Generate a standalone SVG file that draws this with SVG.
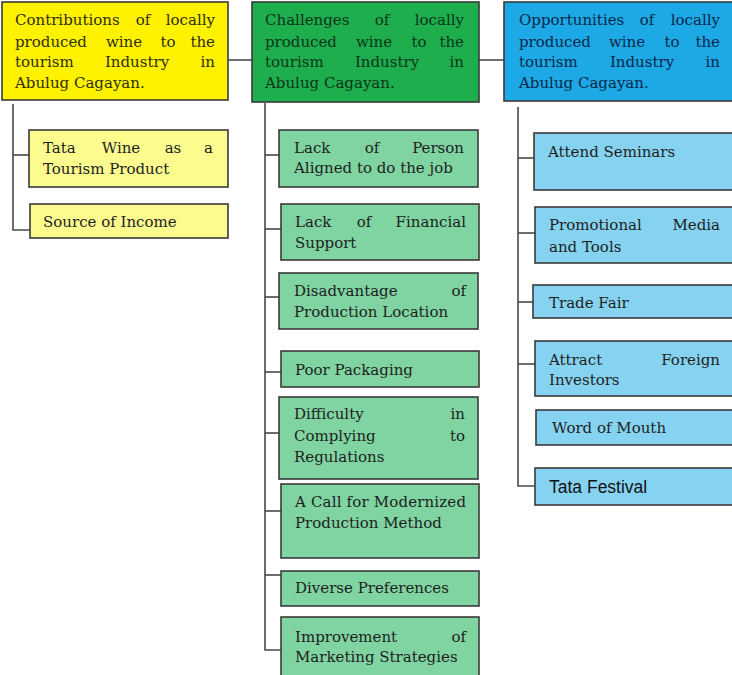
<svg xmlns="http://www.w3.org/2000/svg" width="732" height="675" viewBox="0 0 732 675">
<style>
.t{font-family:"DejaVu Serif","Liberation Serif",serif;font-size:15px;fill:#1e1e1e}
.e{text-anchor:end}
.m{text-anchor:middle}
.hy{fill:#2e2e0a}
.hg{fill:#0b3519}
.hb{fill:#0c2748}
.box{stroke:#3a3a3a;stroke-width:1.6}
.Y{fill:#fff200}.y{fill:#fbfb8e}
.G{fill:#1fae4d}.g{fill:#7fd4a1}
.B{fill:#1ca9e6}.b{fill:#86d3f1}
.c{stroke:#4a4a4a;stroke-width:1.6;fill:none}
.s{font-family:"Liberation Sans",Arial,sans-serif;font-size:17.5px;fill:#111}
</style>
<rect width="732" height="675" fill="#fff"/>
<g id="connectors">
<line class="c" x1="228" y1="60" x2="252" y2="60"/>
<line class="c" x1="479" y1="60" x2="504" y2="60"/>
<polyline class="c" points="13,104 13,230 30,230"/>
<line class="c" x1="13" y1="155" x2="29" y2="155"/>
<polyline class="c" points="265,103 265,650 281,650"/>
<line class="c" x1="265" y1="155" x2="279" y2="155"/>
<line class="c" x1="265" y1="229" x2="281" y2="229"/>
<line class="c" x1="265" y1="297" x2="279" y2="297"/>
<line class="c" x1="265" y1="372" x2="281" y2="372"/>
<line class="c" x1="265" y1="433" x2="279" y2="433"/>
<line class="c" x1="265" y1="511" x2="281" y2="511"/>
<line class="c" x1="265" y1="575" x2="281" y2="575"/>
<polyline class="c" points="518,107 518,486 534,486"/>
<line class="c" x1="518" y1="158" x2="534" y2="158"/>
<line class="c" x1="518" y1="233" x2="535" y2="233"/>
<line class="c" x1="518" y1="302" x2="533" y2="302"/>
<line class="c" x1="518" y1="364" x2="535" y2="364"/>
</g>
<g id="contributions">
<rect class="box Y" x="2" y="2" width="226" height="98"/>
<text class="t hy" x="15" y="25">Contributions</text><text class="t hy m" x="143" y="25">of</text><text class="t hy e" x="215" y="25">locally</text>
<text class="t hy" x="15" y="47">produced</text><text class="t hy m" x="124" y="47">wine</text><text class="t hy m" x="168" y="47">to</text><text class="t hy e" x="215" y="47">the</text>
<text class="t hy" x="15" y="67">tourism</text><text class="t hy m" x="137" y="67">Industry</text><text class="t hy e" x="215" y="67">in</text>
<text class="t hy" x="15" y="88">Abulug Cagayan.</text>
</g>
<g id="y1">
<rect class="box y" x="29" y="130" width="199" height="57"/>
<text class="t" x="43" y="153">Tata</text><text class="t m" x="121" y="153">Wine</text><text class="t m" x="173" y="153">as</text><text class="t e" x="213" y="153">a</text>
<text class="t" x="43" y="174">Tourism Product</text>
</g>
<g id="y2">
<rect class="box y" x="30" y="204" width="198" height="34"/>
<text class="t" x="43" y="227">Source of Income</text>
</g>
<g id="challenges">
<rect class="box G" x="252" y="2" width="227" height="100"/>
<text class="t hg" x="265" y="25">Challenges</text><text class="t hg m" x="382" y="25">of</text><text class="t hg e" x="464" y="25">locally</text>
<text class="t hg" x="265" y="47">produced</text><text class="t hg m" x="374" y="47">wine</text><text class="t hg m" x="419" y="47">to</text><text class="t hg e" x="464" y="47">the</text>
<text class="t hg" x="265" y="67">tourism</text><text class="t hg m" x="387" y="67">Industry</text><text class="t hg e" x="464" y="67">in</text>
<text class="t hg" x="265" y="88">Abulug Cagayan.</text>
</g>
<g id="g1">
<rect class="box g" x="279" y="130" width="199" height="57"/>
<text class="t" x="294" y="153">Lack</text><text class="t m" x="372" y="153">of</text><text class="t e" x="464" y="153">Person</text>
<text class="t" x="294" y="173">Aligned to do the job</text>
</g>
<g id="g2">
<rect class="box g" x="281" y="204" width="198" height="56"/>
<text class="t" x="295" y="227">Lack</text><text class="t m" x="364" y="227">of</text><text class="t e" x="466" y="227">Financial</text>
<text class="t" x="295" y="248">Support</text>
</g>
<g id="g3">
<rect class="box g" x="279" y="273" width="199" height="56"/>
<text class="t" x="294" y="296">Disadvantage</text><text class="t e" x="466" y="296">of</text>
<text class="t" x="294" y="317">Production Location</text>
</g>
<g id="g4">
<rect class="box g" x="281" y="351" width="198" height="36"/>
<text class="t" x="295" y="375">Poor Packaging</text>
</g>
<g id="g5">
<rect class="box g" x="279" y="397" width="199" height="82"/>
<text class="t" x="294" y="419">Difficulty</text><text class="t e" x="465" y="419">in</text>
<text class="t" x="294" y="441">Complying</text><text class="t e" x="465" y="441">to</text>
<text class="t" x="294" y="462">Regulations</text>
</g>
<g id="g6">
<rect class="box g" x="281" y="484" width="198" height="74"/>
<text class="t" x="295" y="507" textLength="171" lengthAdjust="spacing">A Call for Modernized</text>
<text class="t" x="295" y="528">Production Method</text>
</g>
<g id="g7">
<rect class="box g" x="281" y="571" width="198" height="35"/>
<text class="t" x="295" y="593">Diverse Preferences</text>
</g>
<g id="g8">
<rect class="box g" x="281" y="617" width="198" height="70"/>
<text class="t" x="295" y="642">Improvement</text><text class="t e" x="466" y="642">of</text>
<text class="t" x="295" y="662">Marketing Strategies</text>
</g>
<g id="opportunities">
<rect class="box B" x="504" y="2" width="230" height="99"/>
<text class="t hb" x="519" y="25">Opportunities</text><text class="t hb m" x="647" y="25">of</text><text class="t hb e" x="720" y="25">locally</text>
<text class="t hb" x="519" y="47">produced</text><text class="t hb m" x="627" y="47">wine</text><text class="t hb m" x="672" y="47">to</text><text class="t hb e" x="720" y="47">the</text>
<text class="t hb" x="519" y="67">tourism</text><text class="t hb m" x="642" y="67">Industry</text><text class="t hb e" x="720" y="67">in</text>
<text class="t hb" x="519" y="88">Abulug Cagayan.</text>
</g>
<g id="b1">
<rect class="box b" x="534" y="133" width="200" height="57"/>
<text class="t" x="548" y="157">Attend Seminars</text>
</g>
<g id="b2">
<rect class="box b" x="535" y="207" width="199" height="56"/>
<text class="t" x="549" y="230">Promotional</text><text class="t e" x="720" y="230">Media</text>
<text class="t" x="549" y="252">and Tools</text>
</g>
<g id="b3">
<rect class="box b" x="533" y="285" width="201" height="33"/>
<text class="t" x="549" y="308">Trade Fair</text>
</g>
<g id="b4">
<rect class="box b" x="535" y="341" width="199" height="55"/>
<text class="t" x="549" y="365">Attract</text><text class="t e" x="720" y="365">Foreign</text>
<text class="t" x="549" y="385">Investors</text>
</g>
<g id="b5">
<rect class="box b" x="536" y="410" width="198" height="35"/>
<text class="t" x="552" y="433">Word of Mouth</text>
</g>
<g id="b6">
<rect class="box b" x="535" y="468" width="199" height="37"/>
<text class="s" x="549" y="493">Tata Festival</text>
</g>
</svg>
